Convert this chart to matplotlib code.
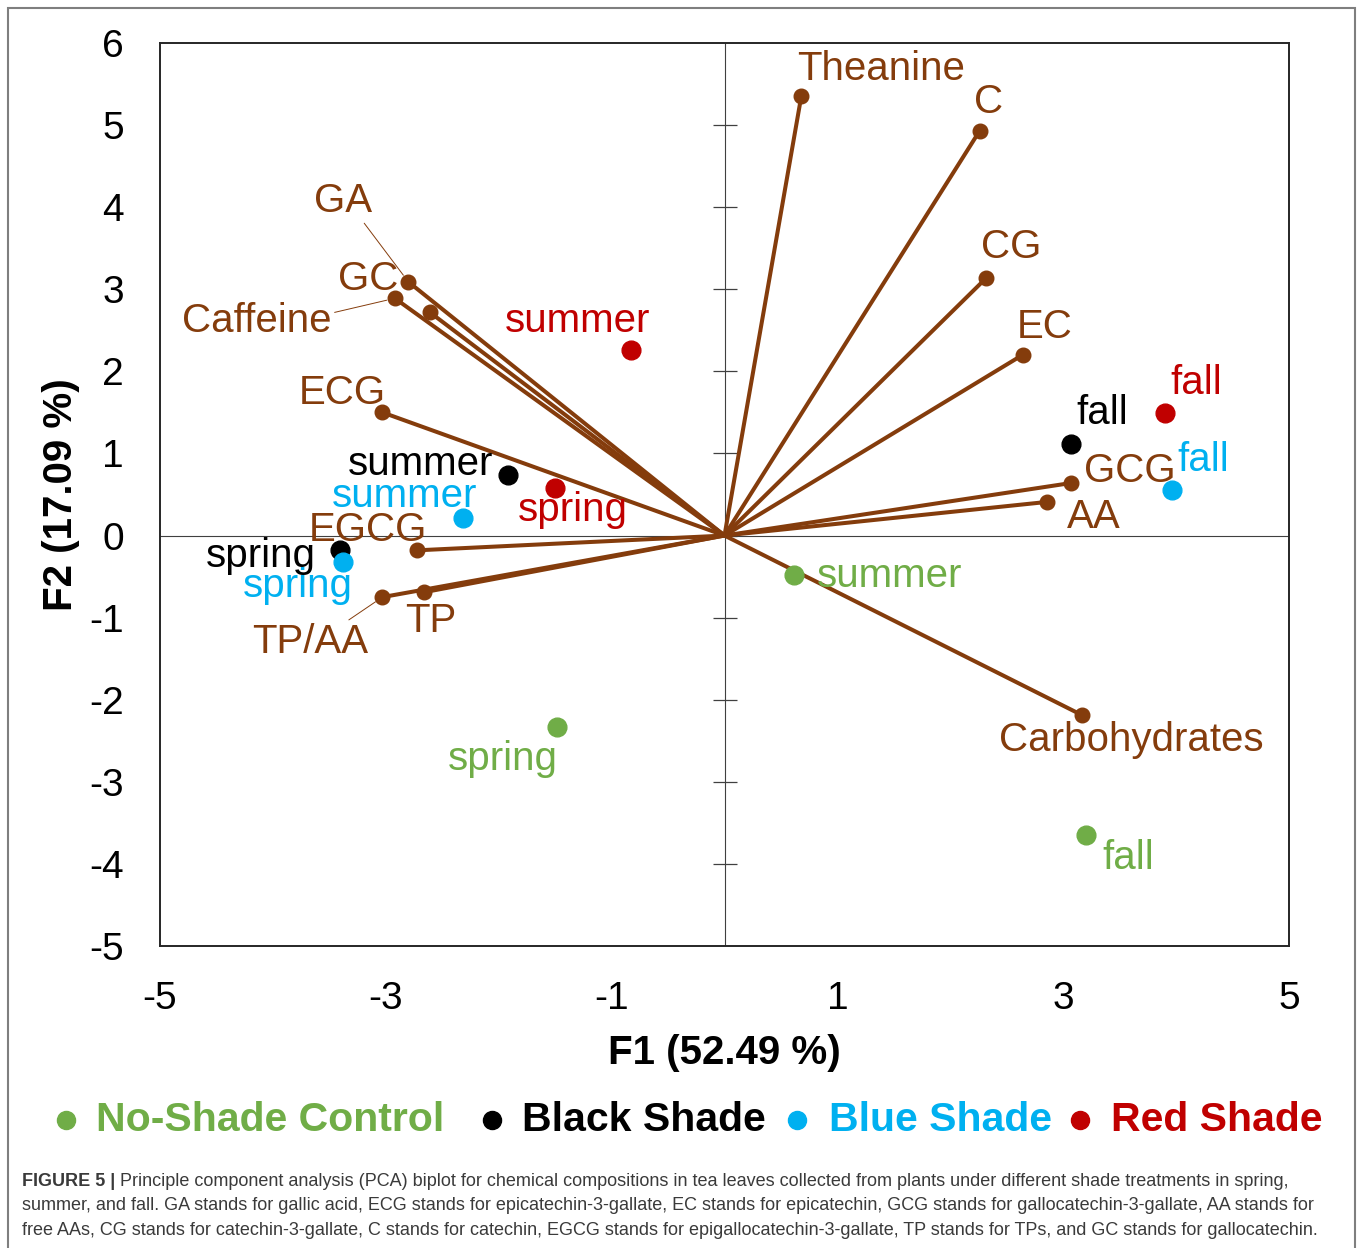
import matplotlib.pyplot as plt
from matplotlib.patches import Rectangle
from matplotlib.lines import Line2D

plt.rcParams["font.family"] = ["Liberation Sans", "DejaVu Sans"]
plt.rcParams["axes.unicode_minus"] = False

# ---- data: loadings (F1, F2) ----
var_names = ["Theanine", "C", "CG", "EC", "GCG", "AA", "Carbohydrates",
             "GA", "GC", "Caffeine", "ECG", "EGCG", "TP", "TP/AA"]
var_f1 = [0.68, 2.26, 2.32, 2.64, 3.07, 2.86, 3.17,
          -2.80, -2.61, -2.92, -3.03, -2.72, -2.66, -3.03]
var_f2 = [5.35, 4.93, 3.14, 2.20, 0.64, 0.41, -2.19,
          3.09, 2.72, 2.89, 1.50, -0.18, -0.69, -0.75]

# ---- data: scores per treatment, order spring / summer / fall ----
seasons = ["spring", "summer", "fall"]
treatments = ["No-Shade Control", "Black Shade", "Blue Shade", "Red Shade"]
ctrl_f1 = [-1.48, 0.62, 3.20]
ctrl_f2 = [-2.33, -0.48, -3.65]
black_f1 = [-3.41, -1.92, 3.07]
black_f2 = [-0.18, 0.74, 1.11]
blue_f1 = [-3.38, -2.32, 3.96]
blue_f2 = [-0.32, 0.21, 0.55]
red_f1 = [-1.50, -0.83, 3.90]
red_f2 = [0.58, 2.26, 1.49]

x_ticks = [-5, -3, -1, 1, 3, 5]
y_ticks = list(range(-5, 7))

# ---- layout / style ----
W, H = 1358, 1248
brown = "#843C0C"
colors = ["#70AD47", "#000000", "#00B0F0", "#C00000"]
scores = [(ctrl_f1, ctrl_f2), (black_f1, black_f2), (blue_f1, blue_f2), (red_f1, red_f2)]

# label offsets in points (left, baseline) relative to each point
var_offsets = [(-3, 12), (-4, 13), (-4, 14), (-4, 12), (9, 1), (14, -19), (-60, -26),
               (-68, 50), (-66, 16), (-153, -24), (-60, 6), (-78, 7), (-14, -29), (-94, -40)]
# leader lines: index -> relpos on the text box
leaders = {7: (0.78, 0.1), 9: (1.0, 0.7), 13: (0.8, 1.0)}
score_offsets = [
    [(-79, -31), (16, -9), (12, -24)],
    [(-96, -12), (-115, 0), (4, 15)],
    [(-72, -25), (-94, 8), (4, 14)],
    [(-27, -24), (-91, 13), (4, 14)],
]

fig = plt.figure(figsize=(W / 100, H / 100), dpi=100)
ax = fig.add_axes([160 / W, 1 - 946 / H, 1129 / W, 903 / H])
ax.set_xlim(-5, 5)
ax.set_ylim(-5, 6)

# centre axes
ax.axhline(0, color="#404040", lw=0.8, zorder=1)
ax.axvline(0, color="#404040", lw=0.8, zorder=1)
ax.plot([0] * (len(y_ticks) - 2), y_ticks[1:-1], ls="none", marker="_",
        markersize=17, mew=0.9, color="#404040", zorder=1)

# loading vectors
for i, name in enumerate(var_names):
    ax.plot([0, var_f1[i]], [0, var_f2[i]], color=brown, lw=2.9, zorder=2,
            solid_capstyle="round")
    ax.plot(var_f1[i], var_f2[i], "o", color=brown, markersize=10.5, zorder=3)
    ap = None
    if i in leaders:
        ap = dict(arrowstyle="-", color=brown, lw=0.7, shrinkA=0, shrinkB=6,
                  relpos=leaders[i])
    ax.annotate(name, (var_f1[i], var_f2[i]), xytext=var_offsets[i],
                textcoords="offset points", ha="left", va="baseline",
                fontsize=29, color=brown, arrowprops=ap, zorder=4)

# scores
for k, (f1, f2) in enumerate(scores):
    ax.plot(f1, f2, "o", color=colors[k], markersize=13.5, ls="none", zorder=5)
    for j, s in enumerate(seasons):
        ax.annotate(s, (f1[j], f2[j]), xytext=score_offsets[k][j],
                    textcoords="offset points", ha="left", va="baseline",
                    fontsize=29, color=colors[k], zorder=6)

ax.set_xticks(x_ticks)
ax.set_yticks(y_ticks)
ax.tick_params(length=0, labelsize=28)
ax.tick_params(axis="x", pad=25.5)
ax.tick_params(axis="y", pad=26)
for sp in ax.spines.values():
    sp.set_color("#262626")
    sp.set_linewidth(1.4)

ax.set_xlabel("F1 (52.49 %)", fontsize=29, fontweight="bold")
ax.set_ylabel("F2 (17.09 %)", fontsize=29, fontweight="bold")
ax.xaxis.set_label_coords(0.5, -0.0975)
ax.yaxis.set_label_coords(-0.071, 0.5)

# legend row
legend_dot_x = [66, 492, 797, 1080]
legend_txt_x = [96, 522, 829, 1111]
for k, name in enumerate(treatments):
    fig.add_artist(Line2D([legend_dot_x[k] / W], [1 - 1120 / H], marker="o",
                          markersize=13, color=colors[k], ls="none",
                          transform=fig.transFigure))
    fig.text(legend_txt_x[k] / W, 1 - 1131 / H, name, fontsize=29.5,
             fontweight="bold", color=colors[k], ha="left", va="baseline")

# outer frame
fig.add_artist(Rectangle((8 / W, -0.01), (1355 - 8) / W, 1.01 - 8 / H,
                         transform=fig.transFigure, fill=False,
                         edgecolor="#7f7f7f", lw=1.5))

# caption
cap_color = "#3a3a3a"
cap_size = 13
cap_lines = [
    " Principle component analysis (PCA) biplot for chemical compositions in tea leaves collected from plants under different shade treatments in spring,",
    "summer, and fall. GA stands for gallic acid, ECG stands for epicatechin-3-gallate, EC stands for epicatechin, GCG stands for gallocatechin-3-gallate, AA stands for",
    "free AAs, CG stands for catechin-3-gallate, C stands for catechin, EGCG stands for epigallocatechin-3-gallate, TP stands for TPs, and GC stands for gallocatechin.",
]
cap_base = [1186, 1210, 1235]
renderer = fig.canvas.get_renderer()
head = fig.text(22 / W, 1 - cap_base[0] / H, "FIGURE 5 |", fontsize=cap_size,
                fontweight="bold", color=cap_color, ha="left", va="baseline")
bb = head.get_window_extent(renderer)
fig.text(bb.x1 / W, 1 - cap_base[0] / H, cap_lines[0], fontsize=cap_size,
         color=cap_color, ha="left", va="baseline")
for line, yb in zip(cap_lines[1:], cap_base[1:]):
    fig.text(22 / W, 1 - yb / H, line, fontsize=cap_size, color=cap_color,
             ha="left", va="baseline")

fig.savefig("out.png", dpi=100)
